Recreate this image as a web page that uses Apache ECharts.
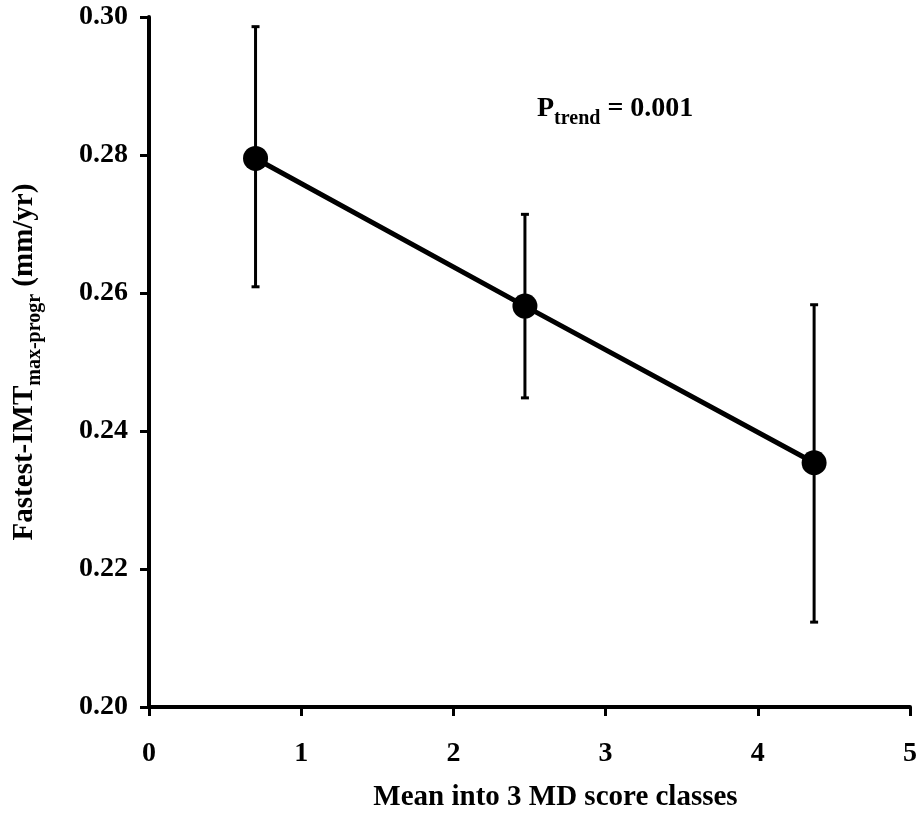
<!DOCTYPE html>
<html>
<head>
<meta charset="utf-8">
<script src="https://cdn.jsdelivr.net/npm/echarts@6/dist/echarts.min.js"></script>
<style>html,body{margin:0;padding:0;background:#fff}#c{width:922px;height:816px}</style>
</head>
<body>
<div id="c"></div>
<script>
var xValues = [0.70, 2.47, 4.37];
var means = [0.2795, 0.2581, 0.2354];
var upper = [0.2986, 0.2714, 0.2583];
var lower = [0.2609, 0.2448, 0.2123];
var xTicks = [0, 1, 2, 3, 4, 5];
var yTickLabels = ['0.20', '0.22', '0.24', '0.26', '0.28', '0.30'];
var xTitle = 'Mean into 3 MD score classes';
var pTrend = '= 0.001';

var FONT = 'Liberation Serif';
var chart = echarts.init(document.getElementById('c'), null, {renderer: 'canvas'});

var lineData = xValues.map(function (x, i) { return [x, means[i]]; });
var errData = xValues.map(function (x, i) { return [x, lower[i], upper[i]]; });

var option = {
  backgroundColor: '#fff',
  animation: false,
  grid: {left: 149, right: 12, top: 17, bottom: 109, containLabel: false, outerBoundsMode: 'none'},
  xAxis: {
    type: 'value', min: 0, max: 5, interval: 1,
    name: xTitle, nameLocation: 'middle', nameGap: 76,
    nameTextStyle: {fontFamily: FONT, fontWeight: 'bold', fontSize: 29, color: '#000', padding: [0, 0, 0, 52]},
    axisLine: {show: true, onZero: false, lineStyle: {color: '#000', width: 4}},
    axisTick: {show: true, inside: false, length: 9, lineStyle: {color: '#000', width: 3}},
    axisLabel: {margin: 33, fontFamily: FONT, fontWeight: 'bold', fontSize: 28, color: '#000',
      formatter: function (v) { return xTicks.indexOf(v) >= 0 ? String(v) : ''; }},
    splitLine: {show: false}
  },
  yAxis: {
    type: 'value', min: 0.20, max: 0.30, interval: 0.02,
    name: '{a|Fastest-IMT}{b|max-progr}{a| (mm/yr)}',
    nameLocation: 'middle', nameGap: 104, nameRotate: 90,
    nameTextStyle: {
      color: '#000',
      rich: {
        a: {fontFamily: FONT, fontWeight: 'bold', fontSize: 29, lineHeight: 40, verticalAlign: 'middle', color: '#000'},
        b: {fontFamily: FONT, fontWeight: 'bold', fontSize: 20, lineHeight: 20, verticalAlign: 'bottom', color: '#000'}
      }
    },
    axisLine: {show: true, onZero: false, lineStyle: {color: '#000', width: 4}},
    axisTick: {show: true, inside: false, length: 9, lineStyle: {color: '#000', width: 3}},
    axisLabel: {margin: 21, fontFamily: FONT, fontWeight: 'bold', fontSize: 28, color: '#000',
      formatter: function (v) {
        var idx = Math.round((v - 0.20) / 0.02);
        return yTickLabels[idx] || '';
      }},
    splitLine: {show: false}
  },
  series: [
    {
      type: 'custom',
      data: errData,
      z: 2,
      renderItem: function (params, api) {
        var x = api.value(0);
        var lo = api.coord([x, api.value(1)]);
        var hi = api.coord([x, api.value(2)]);
        var cw = 4;
        var st = {stroke: '#000', lineWidth: 3};
        return {
          type: 'group',
          children: [
            {type: 'line', shape: {x1: lo[0], y1: lo[1], x2: hi[0], y2: hi[1]}, style: st},
            {type: 'line', shape: {x1: lo[0] - cw, y1: lo[1], x2: lo[0] + cw, y2: lo[1]}, style: st},
            {type: 'line', shape: {x1: hi[0] - cw, y1: hi[1], x2: hi[0] + cw, y2: hi[1]}, style: st}
          ]
        };
      }
    },
    {
      type: 'line',
      data: lineData,
      z: 3,
      symbol: 'circle',
      symbolSize: 25,
      lineStyle: {color: '#000', width: 5},
      itemStyle: {color: '#000'}
    }
  ],
  graphic: [
    {
      type: 'text',
      left: 537, top: 95,
      style: {
        text: '{p|P}{s|trend}{p| ' + pTrend + '}',
        rich: {
          p: {fontFamily: FONT, fontWeight: 'bold', fontSize: 28, lineHeight: 40, verticalAlign: 'middle', fill: '#000'},
          s: {fontFamily: FONT, fontWeight: 'bold', fontSize: 20, lineHeight: 20, verticalAlign: 'bottom', fill: '#000'}
        }
      }
    }
  ]
};
chart.setOption(option);
</script>
</body>
</html>
